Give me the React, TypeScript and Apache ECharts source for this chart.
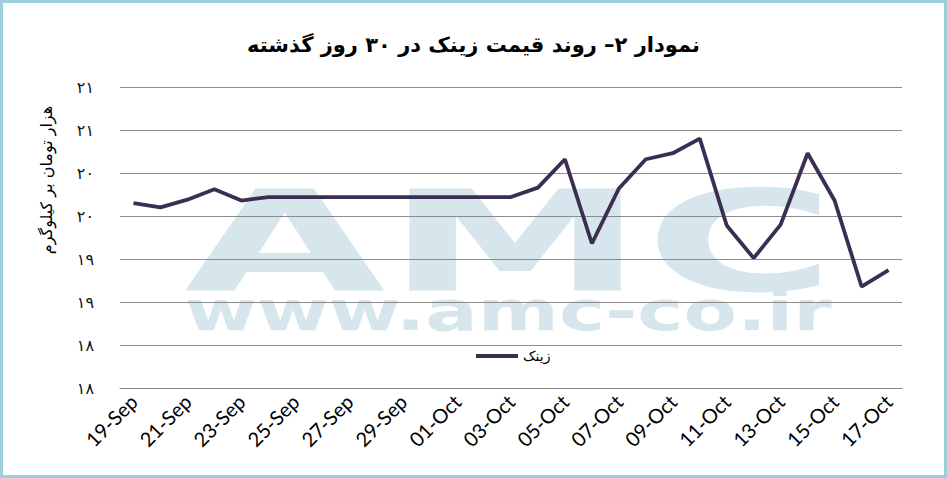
import React, { useEffect, useRef } from "react";
import * as echarts from "echarts";

const dates = [
  "19-Sep", "20-Sep", "21-Sep", "22-Sep", "23-Sep", "24-Sep", "25-Sep", "26-Sep",
  "27-Sep", "28-Sep", "29-Sep", "30-Sep", "01-Oct", "02-Oct", "03-Oct", "04-Oct",
  "05-Oct", "06-Oct", "07-Oct", "08-Oct", "09-Oct", "10-Oct", "11-Oct", "12-Oct",
  "13-Oct", "14-Oct", "15-Oct", "16-Oct", "17-Oct",
];

const zincPrices = [
  19.65, 19.6, 19.69, 19.81, 19.68, 19.72, 19.72, 19.72, 19.72, 19.72,
  19.72, 19.72, 19.72, 19.72, 19.72, 19.83, 20.16, 19.18, 19.82, 20.16,
  20.23, 20.4, 19.39, 19.01, 19.4, 20.23, 19.68, 18.68, 18.87,
];

const yTickLabels = ["۱۸", "۱۸", "۱۹", "۱۹", "۲۰", "۲۰", "۲۱", "۲۱"];

const titleText = "نمودار ۲– روند قیمت زینک در ۳۰ روز گذشته";
const yAxisTitle = "هزار تومان بر کیلوگرم";
const seriesName = "زینک";

const Y_MIN = 17.5;
const Y_MAX = 21;
const Y_STEP = 0.5;

export default function App() {
  const ref = useRef<HTMLDivElement>(null);

  useEffect(() => {
    if (!ref.current) return;
    const chart = echarts.init(ref.current, undefined, { renderer: "svg" });
    const wmColor = "#d6e6ec";
    chart.setOption({
      animation: false,
      backgroundColor: "#ffffff",
      title: {
        text: titleText,
        left: "center",
        top: 29,
        textStyle: {
          fontFamily: "DejaVu Sans",
          fontWeight: "bold",
          fontSize: 21,
          color: "#000",
        },
      },
      graphic: [
        {
          type: "rect",
          z: 100,
          silent: true,
          shape: { x: 1.5, y: 1.5, width: 944, height: 475 },
          style: { fill: "none", stroke: "#9ccfdc", lineWidth: 3 },
        },
        {
          type: "text",
          z: -10,
          silent: true,
          x: 184,
          y: 242,
          scaleX: 1.86,
          style: {
            text: "AMC",
            font: 'bold 140px "DejaVu Sans"',
            fill: wmColor,
            textAlign: "left",
            textVerticalAlign: "middle",
          },
        },
        {
          type: "text",
          z: -10,
          silent: true,
          x: 185,
          y: 311,
          scaleX: 1.39,
          style: {
            text: "www.amc-co.ir",
            font: 'bold 56px "DejaVu Sans"',
            fill: wmColor,
            textAlign: "left",
            textVerticalAlign: "middle",
          },
        },
        {
          type: "text",
          silent: true,
          x: 46,
          y: 180,
          rotation: Math.PI / 2,
          style: {
            text: yAxisTitle,
            font: '16px "DejaVu Sans"',
            fill: "#000",
            textAlign: "center",
            textVerticalAlign: "middle",
          },
        },
      ],
      legend: {
        left: 471,
        top: 344,
        icon: "rect",
        itemWidth: 42,
        itemHeight: 4,
        itemGap: 4,
        textStyle: { fontFamily: "DejaVu Sans", fontSize: 14, color: "#000" },
        data: [seriesName],
      },
      grid: { left: 120, right: 45, top: 87, bottom: 90, containLabel: false },
      xAxis: {
        type: "category",
        data: dates,
        boundaryGap: true,
        axisLine: { lineStyle: { color: "#888888", width: 1 } },
        axisTick: { interval: 1, length: 7, lineStyle: { color: "#888888" } },
        axisLabel: {
          interval: 1,
          rotate: 45,
          margin: 10,
          fontFamily: "Lato",
          fontSize: 20,
          color: "#000",
        },
      },
      yAxis: {
        type: "value",
        min: Y_MIN,
        max: Y_MAX,
        interval: Y_STEP,
        axisLine: { show: false },
        axisTick: { show: false },
        splitLine: { lineStyle: { color: "#8c8c8c", width: 1 } },
        axisLabel: {
          margin: 26,
          fontFamily: "DejaVu Sans",
          fontSize: 16,
          color: "#111",
          formatter: (v: number) => {
            const i = Math.round((v - Y_MIN) / Y_STEP);
            return yTickLabels[i] ?? "";
          },
        },
      },
      series: [
        {
          name: seriesName,
          type: "line",
          data: zincPrices,
          symbol: "none",
          lineStyle: { color: "#3b2e52", width: 3.8 },
          itemStyle: { color: "#3b2e52" },
          z: 5,
        },
      ],
    });
    return () => chart.dispose();
  }, []);

  return (
    <div
      ref={ref}
      style={{ position: "absolute", left: 0, top: 0, width: 947, height: 478 }}
    />
  );
}
